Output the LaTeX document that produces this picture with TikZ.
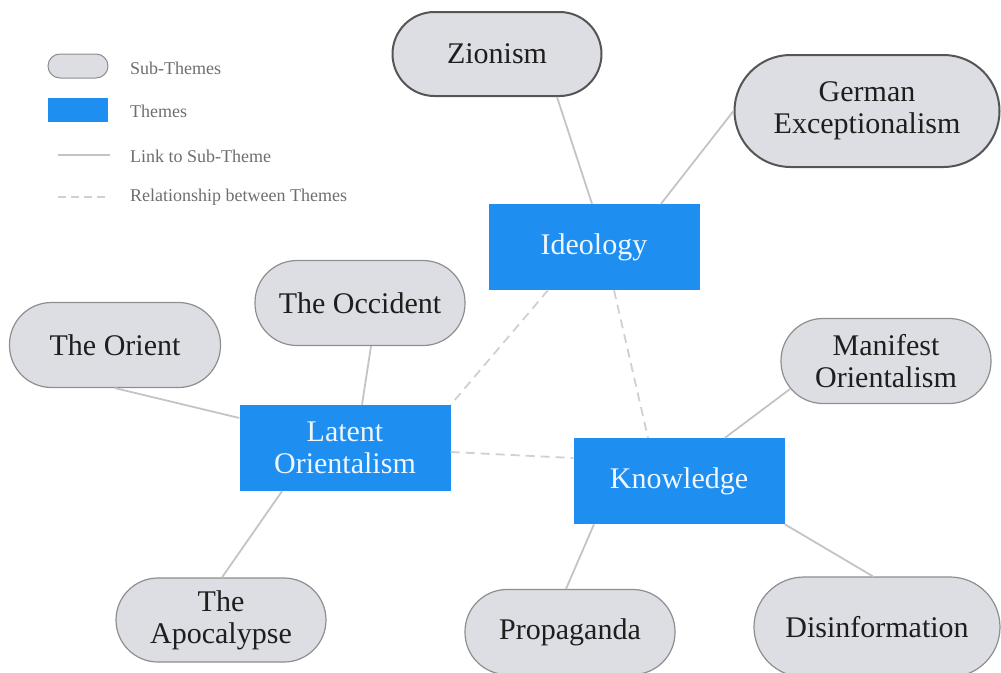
\documentclass[tikz,border=0pt]{standalone}
\usepackage{fontspec}
\setmainfont{Liberation Serif}
\definecolor{subfill}{HTML}{DDDEE3}
\definecolor{subdraw}{HTML}{8E8E8E}
\definecolor{subdark}{HTML}{555555}
\definecolor{themeblue}{HTML}{1F8EF1}
\definecolor{themetext}{HTML}{EEF6FF}
\definecolor{linkgray}{HTML}{C4C4C4}
\definecolor{relgray}{HTML}{D0D0D0}
\definecolor{legtext}{HTML}{6E6E6E}
\definecolor{maintext}{HTML}{1E1E1E}
\begin{document}
\begin{tikzpicture}[x=1pt,y=-1pt,
  bigtext/.style={font=\fontsize{30}{32}\selectfont, align=center},
  sub/.style={bigtext, draw=subdraw, line width=1.2pt, fill=subfill, text=maintext, inner sep=0pt, minimum width=210pt, minimum height=85pt, rounded corners=42pt},
  subdk/.style={sub, draw=subdark, line width=2pt},
  theme/.style={bigtext, fill=themeblue, text=themetext, inner sep=0pt, minimum width=211pt, minimum height=86pt},
  link/.style={draw=linkgray, line width=1.8pt},
  rel/.style={draw=relgray, line width=1.8pt, dash pattern=on 9pt off 6pt},
  legtxt/.style={anchor=west, text=legtext, font=\fontsize{18}{20}\selectfont, inner sep=0pt}]
\useasboundingbox (0,0) rectangle (1001,672);

% legend
\node[draw=subdraw, line width=1pt, fill=subfill, minimum width=60pt, minimum height=24pt, rounded corners=12pt, inner sep=0pt] (legsub) at (78,66) {};
\node[fill=themeblue, minimum width=60pt, minimum height=24pt, inner sep=0pt] (legtheme) at (78,110) {};
\coordinate (la) at (58,155); \coordinate (lb) at (110,155);
\coordinate (ra) at (58,197); \coordinate (rb) at (110,197);
\draw[draw=linkgray, line width=1.5pt] (la) -- (lb);
\draw[draw=relgray, line width=1.5pt, dash pattern=on 8pt off 5pt] (ra) -- (rb);
\node[legtxt] (t1) at (130,68) {Sub-Themes};
\node[legtxt] (t2) at (130,111) {Themes};
\node[legtxt] (t3) at (130,156) {Link to Sub-Theme};
\node[legtxt] (t4) at (130,197) {Relationship between Themes};

% themes
\node[theme] (ideo) at (594,247) {Ideology};
\node[theme] (lat) at (345,448) {Latent\\Orientalism};
\node[theme] (know) at (679,481) {Knowledge};

% sub-themes
\node[subdk, minimum width=209pt, minimum height=84pt] (zion) at (497,54) {Zionism};
\node[subdk, minimum width=265pt, minimum height=112pt, rounded corners=56pt] (germ) at (867,111) {German\\Exceptionalism};
\node[sub] (occ) at (360,303) {The Occident};
\node[sub, minimum width=211pt] (ori) at (115,345) {The Orient};
\node[sub] (man) at (886,361) {Manifest\\Orientalism};
\node[sub, minimum height=84pt] (apo) at (221,620) {The\\Apocalypse};
\node[sub] (prop) at (570,632) {Propaganda};
\node[sub, minimum width=246pt, minimum height=100pt, rounded corners=50pt] (dis) at (877,627) {Disinformation};

% links
\draw[link] ([xshift=60pt]zion.south) -- ([xshift=-2pt]ideo.north);
\draw[link] (germ.west) -- ([xshift=67pt]ideo.north);
\draw[link] ([xshift=11pt]occ.south) -- ([xshift=17pt]lat.north);
\draw[link] (ori.south) -- ([yshift=30pt]lat.west);
\draw[link] ([xshift=-63pt]lat.south) -- ([xshift=1pt]apo.north);
\draw[link] ([xshift=-96pt,yshift=-28pt]man.center) -- ([xshift=46pt]know.north);
\draw[link] ([xshift=-85pt]know.south) -- ([xshift=-4pt]prop.north);
\draw[link] (know.south east) -- ([xshift=-4pt]dis.north);

% relationships
\draw[rel] ([xshift=-46pt]ideo.south) -- (lat.north east);
\draw[rel] ([xshift=20pt]ideo.south) -- ([xshift=-31pt]know.north);
\draw[rel] ([yshift=-4pt]lat.east) -- ([yshift=23pt]know.west);
\end{tikzpicture}
\end{document}
